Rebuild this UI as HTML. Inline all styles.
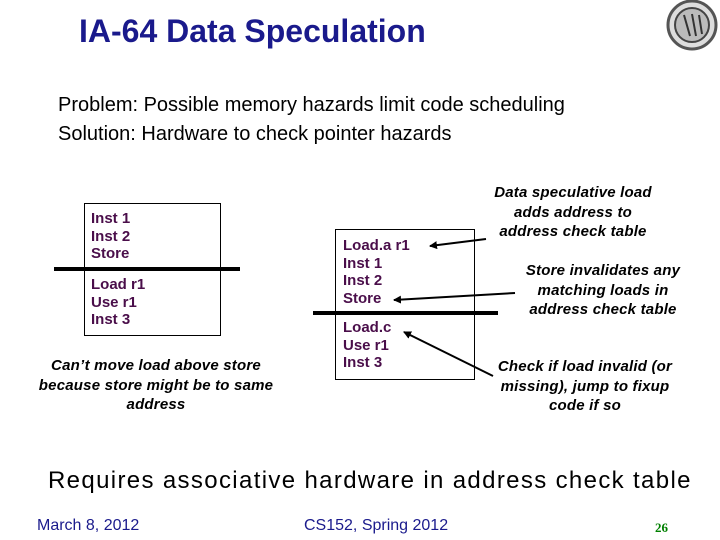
<!DOCTYPE html>
<html><head><style>
body{margin:0;width:720px;height:540px;background:#fff;position:relative;overflow:hidden;font-family:"Liberation Sans",Arial,sans-serif}
.a{position:absolute;white-space:nowrap}
.p{color:#4a0e4a;font-size:15px;line-height:17.5px;font-weight:bold}
.i{font-style:italic;font-weight:bold;font-size:15px;line-height:19.5px;text-align:center;color:#000;letter-spacing:0.2px}
</style></head><body>
<div class="a" style="left:79px;top:13px;font-size:32px;font-weight:bold;color:#1a1a8c">IA-64 Data Speculation</div>
<svg class="a" style="left:664px;top:0" width="56" height="52"><circle cx="28" cy="25" r="24" fill="#ddd" stroke="#555" stroke-width="3"/><circle cx="28" cy="25" r="17" fill="#bbb" stroke="#444" stroke-width="2"/><path d="M20 15 L26 36 M28 14 L32 36 M35 15 L38 34" stroke="#333" stroke-width="2"/></svg>
<div class="a" style="left:58px;top:91px;font-size:20px;line-height:29px">Problem: Possible memory hazards limit code scheduling<br>Solution: Hardware to check pointer hazards</div>
<div class="a" style="left:84px;top:203px;width:135px;height:131px;border:1px solid #000"></div>
<div class="a" style="left:335px;top:229px;width:138px;height:149px;border:1px solid #000"></div>
<div class="a p" style="left:91px;top:210px">Inst 1<br>Inst 2<br>Store</div>
<div class="a p" style="left:91px;top:276px">Load r1<br>Use r1<br>Inst 3</div>
<div class="a p" style="left:343px;top:237px">Load.a r1<br>Inst 1<br>Inst 2<br>Store</div>
<div class="a p" style="left:343px;top:319px">Load.c<br>Use r1<br>Inst 3</div>
<svg class="a" style="left:0;top:0" width="720" height="540">
<defs><marker id="m" markerWidth="8" markerHeight="8" refX="7" refY="4" orient="auto" markerUnits="userSpaceOnUse"><path d="M0,0 L8,4 L0,8 Z"/></marker></defs>
<line x1="54" y1="269" x2="240" y2="269" stroke="#000" stroke-width="4"/>
<line x1="313" y1="313" x2="498" y2="313" stroke="#000" stroke-width="4"/>
<line x1="486" y1="239" x2="430" y2="246" stroke="#000" stroke-width="2" marker-end="url(#m)"/>
<line x1="515" y1="293" x2="394" y2="300" stroke="#000" stroke-width="2" marker-end="url(#m)"/>
<line x1="493" y1="376" x2="404" y2="332" stroke="#000" stroke-width="2" marker-end="url(#m)"/>
</svg>
<div class="a i" style="left:16px;top:356px;width:280px">Can’t move load above store<br>because store might be to same<br>address</div>
<div class="a i" style="left:473px;top:183px;width:200px">Data speculative load<br>adds address to<br>address check table</div>
<div class="a i" style="left:503px;top:261px;width:200px">Store invalidates any<br>matching loads in<br>address check table</div>
<div class="a i" style="left:485px;top:357px;width:200px">Check if load invalid (or<br>missing), jump to fixup<br>code if so</div>
<div class="a" style="left:48px;top:467px;font-size:24px;letter-spacing:1.35px">Requires associative hardware in address check table</div>
<div class="a" style="left:37px;top:517px;font-size:16px;color:#1a1a8c">March 8, 2012</div>
<div class="a" style="left:304px;top:517px;font-size:16px;color:#1a1a8c">CS152, Spring 2012</div>
<div class="a" style="left:655px;top:520px;font-size:13px;font-weight:bold;color:#008000;font-family:'Liberation Serif',serif">26</div>
</body></html>
